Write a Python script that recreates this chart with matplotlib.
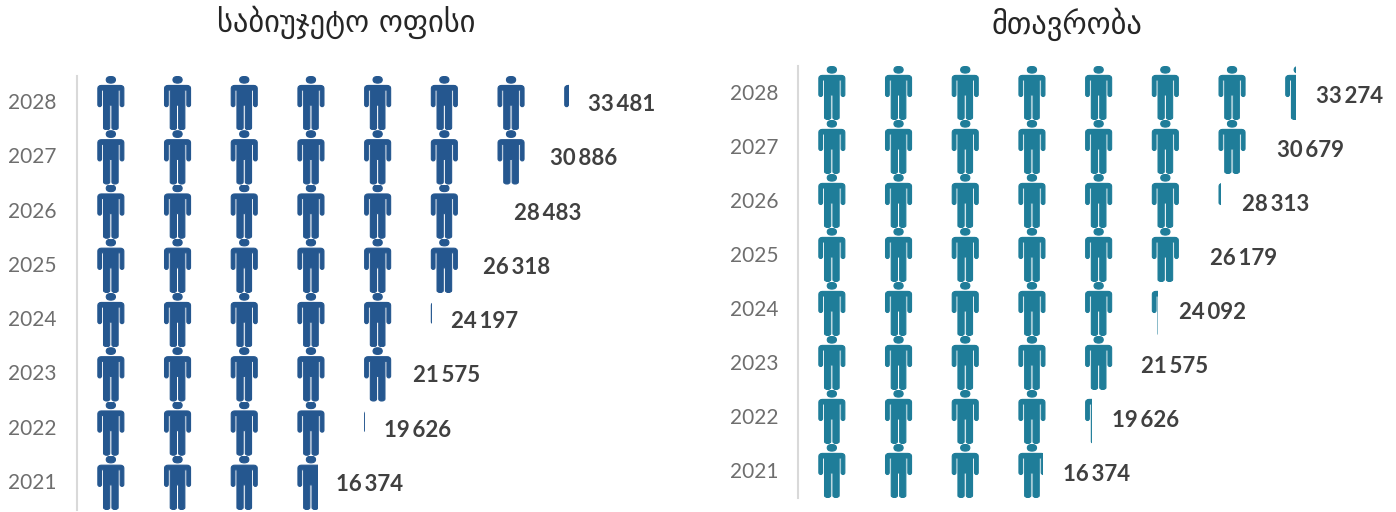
import math
import matplotlib
matplotlib.use("Agg")
import matplotlib.pyplot as plt
from matplotlib.path import Path
from matplotlib.patches import PathPatch, Rectangle
from matplotlib.transforms import Affine2D, ScaledTranslation

years = [2021, 2022, 2023, 2024, 2025, 2026, 2027, 2028]
budget_office = [16374, 19626, 21575, 24197, 26318, 28483, 30886, 33481]
government = [16374, 19626, 21575, 24092, 26179, 28313, 30679, 33274]
title_left = "საბიუჯეტო ოფისი"
title_right = "მთავრობა"

BLUE = "#25578F"
TEAL = "#1F7D99"
W, H = 1396, 512
CELL = 66.7


def person_path():
    M, L, C, Z = Path.MOVETO, Path.LINETO, Path.CURVE3, Path.CLOSEPOLY
    v, c = [], []
    def add(pts):
        for code, p in pts:
            c.append(code); v.append(p)
    # body, in a 27 x 54 pixel grid with y downward
    add([(M, (4, 9.4)), (L, (23, 9.4)), (C, (26.5, 9.4)), (C, (26.5, 12.5)),
         (L, (26.5, 28.5)), (C, (26.5, 30.5)), (C, (24.7, 30.5)), (C, (22.8, 30.5)), (C, (22.8, 28.5)),
         (L, (22.8, 14)), (L, (20.8, 14)), (L, (20.8, 51.5)), (C, (20.8, 53.5)), (C, (17.5, 53.5)),
         (C, (14.6, 53.5)), (C, (14.6, 51.5)), (L, (14.6, 29)), (L, (12.4, 29)), (L, (12.4, 51.5)),
         (C, (12.4, 53.5)), (C, (9.5, 53.5)), (C, (6.2, 53.5)), (C, (6.2, 51.5)),
         (L, (6.2, 14)), (L, (4.2, 14)), (L, (4.2, 28.5)), (C, (4.2, 30.5)), (C, (2.4, 30.5)),
         (C, (0.5, 30.5)), (C, (0.5, 28.5)), (L, (0.5, 12.5)), (C, (0.5, 9.4)), (C, (4, 9.4)),
         (Z, (4, 9.4))])
    # head
    cx, cy, rx, ry = 13.5, 3.8, 4.6, 3.3
    add([(M, (cx + rx, cy)), (C, (cx + rx, cy + ry)), (C, (cx, cy + ry)),
         (C, (cx - rx, cy + ry)), (C, (cx - rx, cy)), (C, (cx - rx, cy - ry)),
         (C, (cx, cy - ry)), (C, (cx + rx, cy - ry)), (C, (cx + rx, cy)),
         (Z, (cx + rx, cy))])
    return Path(v, c)


PERSON = person_path()
fig = plt.figure(figsize=(W / 100, H / 100), dpi=100)
fig.patch.set_facecolor("white")


def panel(x0, x1, top, bottom, values, unit, color, title, title_x, title_y, pad, tick_dy, label_dx, label_dy):
    ax = fig.add_axes([x0 / W, 1 - bottom / H, (x1 - x0) / W, (bottom - top) / H])
    ax.set_xlim(0, (x1 - x0) / CELL * unit)
    ax.set_ylim(-0.5, len(years) - 0.5)
    for s in ("top", "right", "bottom"):
        ax.spines[s].set_visible(False)
    ax.spines["left"].set_color("#D9D9D9")
    ax.spines["left"].set_linewidth(1.5)
    ax.set_xticks([])
    ax.set_yticks(range(len(years)))
    ax.set_yticklabels([str(y) for y in years], fontfamily="Lato", fontsize=15, color="#6E6E6E")
    ax.tick_params(axis="y", length=0, pad=pad)
    shift = ScaledTranslation(0, tick_dy / 100, fig.dpi_scale_trans)
    for lab in ax.get_yticklabels():
        lab.set_transform(lab.get_transform() + shift)
    cell_w = 27 / CELL
    for row, value in enumerate(values):
        clip = Rectangle((0, row - 0.5), value, 1, transform=ax.transData)
        for i in range(math.ceil(value / unit)):
            tr = (Affine2D().translate(0, -54).scale(1 / 27, -1 / 54)
                  .scale(cell_w, 1).translate(0.305, 0)
                  .scale(unit, 1).translate(i * unit, row - 0.5))
            p = PathPatch(PERSON, transform=tr + ax.transData, facecolor=color,
                          edgecolor=color, linewidth=0.8)
            ax.add_patch(p)
            p.set_clip_path(clip)
        ax.annotate(f"{value:,}".replace(",", "\u2009"), (value, row), xytext=(label_dx, label_dy),
                    textcoords="offset points", ha="left", va="center",
                    fontfamily=["Lato", "DejaVu Sans"], fontweight="bold", fontsize=16, color="#404040")
    fig.text(title_x / W, 1 - title_y / H, title, ha="center", va="center",
             fontfamily="DejaVu Sans", fontsize=22, color="#262626")


panel(77, 680, 76, 510, budget_office, 4540, BLUE, title_left, 346, 22, 15, 2, 13.6, -1)
panel(798, 1394, 66, 498, government, 4460, TEAL, title_right, 1067, 24, 14, 1, 14.8, -2.5)
fig.savefig("out.png", dpi=100)
